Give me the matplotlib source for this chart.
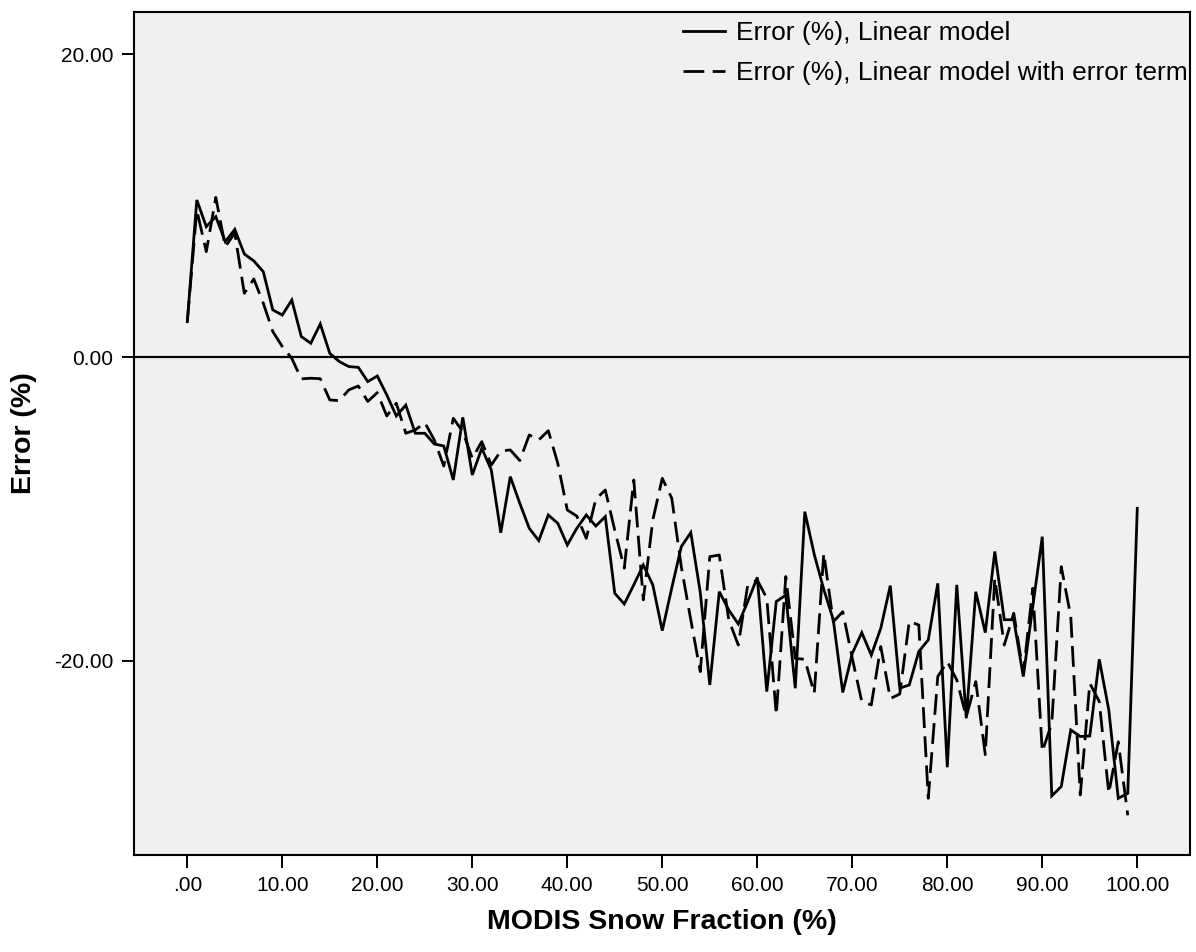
import numpy as np
import matplotlib
matplotlib.use("Agg")
import matplotlib.pyplot as plt

plt.rcParams['font.family'] = ['Liberation Sans', 'DejaVu Sans']

snow_fraction = list(range(0, 101))

error_linear = [
    2.36, 10.39, 8.63, 9.29, 7.64, 8.45, 6.83, 6.37, 5.66, 3.14,
    2.80, 3.79, 1.38, 0.94, 2.21, 0.27, -0.27, -0.60, -0.65, -1.59,
    -1.22, -2.47, -3.86, -3.14, -5.00, -5.00, -5.71, -5.84, -8.08, -3.95,
    -7.75, -5.99, -7.42, -11.56, -7.86, -9.62, -11.27, -12.08, -10.39, -10.94,
    -12.37, -11.27, -10.39, -11.12, -10.50, -15.56, -16.26, -15.00, -13.69, -15.00,
    -18.02, -15.20, -12.48, -11.55, -15.50, -21.60, -15.45, -16.66, -17.58, -16.10,
    -14.50, -22.04, -16.10, -15.67, -21.82, -10.17, -13.00, -15.30, -17.30, -22.10,
    -19.52, -18.15, -19.63, -17.86, -15.05, -21.82, -21.60, -19.40, -18.63, -14.90,
    -27.03, -15.00, -23.80, -15.45, -18.15, -12.80, -17.30, -17.30, -21.05, -16.43,
    -11.82, -28.92, -28.30, -24.57, -25.00, -24.97, -19.91, -23.25, -29.08, -28.75,
    -9.95,
]

error_linear_term = [
    2.36, 9.73, 6.98, 10.56, 7.31, 8.20, 4.23, 5.18, 3.58, 1.71,
    0.72, -0.06, -1.41, -1.37, -1.40, -2.80, -2.85, -2.14, -1.88, -2.90,
    -2.32, -3.86, -3.02, -5.00, -4.78, -4.30, -5.44, -7.16, -4.01, -4.89,
    -6.65, -5.55, -7.10, -6.17, -6.10, -6.80, -5.11, -5.44, -4.83, -6.98,
    -10.06, -10.46, -11.93, -9.35, -8.74, -11.40, -13.90, -8.08, -15.99, -10.72,
    -7.97, -9.29, -13.80, -17.31, -20.72, -13.14, -13.03, -17.31, -18.97, -15.00,
    -14.68, -15.88, -23.58, -14.45, -19.85, -19.91, -22.16, -12.92, -17.43, -16.77,
    -19.85, -22.70, -22.92, -19.07, -22.50, -22.20, -17.40, -17.65, -29.08, -21.05,
    -20.06, -21.27, -23.70, -21.38, -26.20, -14.57, -18.97, -16.87, -20.83, -15.22,
    -26.00, -24.13, -13.80, -17.10, -28.86, -21.49, -22.70, -28.75, -25.35, -30.20,
    np.nan,
]

x_ticks = [0, 10, 20, 30, 40, 50, 60, 70, 80, 90, 100]
x_tick_labels = [".00", "10.00", "20.00", "30.00", "40.00", "50.00",
                 "60.00", "70.00", "80.00", "90.00", "100.00"]
y_ticks = [20, 0, -20]
y_tick_labels = ["20.00", "0.00", "-20.00"]

W, H = 1196, 952
fig = plt.figure(figsize=(W / 100, H / 100), dpi=100)
left, right, top, bottom = 134, 1190, 12, 855
ax = fig.add_axes([left / W, 1 - bottom / H, (right - left) / W, (bottom - top) / H])
ax.set_facecolor('#f0f0f0')

plt.rcParams['lines.scale_dashes'] = False
ax.axhline(0, color='black', lw=1.6, zorder=1)
ax.plot(snow_fraction, error_linear, color='black', lw=2.0,
        solid_joinstyle='miter', label='Error (%), Linear model', zorder=3)
ax.plot(snow_fraction, error_linear_term, color='black', lw=2.0,
        linestyle=(0, (15, 6)), label='Error (%), Linear model with error term', zorder=2)

ax.set_xlim(-5.61, 105.55)
ax.set_ylim(-32.82, 22.79)

ax.set_xticks(x_ticks)
ax.set_xticklabels(x_tick_labels)
ax.set_yticks(y_ticks)
ax.set_yticklabels(y_tick_labels)
ax.tick_params(direction='out', length=9, width=1.4, labelsize=15, pad=6, color='black')

for s in ax.spines.values():
    s.set_linewidth(1.5)
    s.set_color('black')

ax.set_xlabel('MODIS Snow Fraction (%)', fontsize=20.5, fontweight='bold', labelpad=10)
ax.set_ylabel('Error (%)', fontsize=20.5, fontweight='bold', labelpad=12)

leg = ax.legend(loc='upper left', bbox_to_anchor=(683 / W, 1 - 21 / H),
                bbox_transform=fig.transFigure, frameon=False, fontsize=19,
                handlelength=1.6, handletextpad=0.4, labelspacing=0.62,
                borderpad=0, borderaxespad=0)

fig.savefig('out.png', dpi=100)
